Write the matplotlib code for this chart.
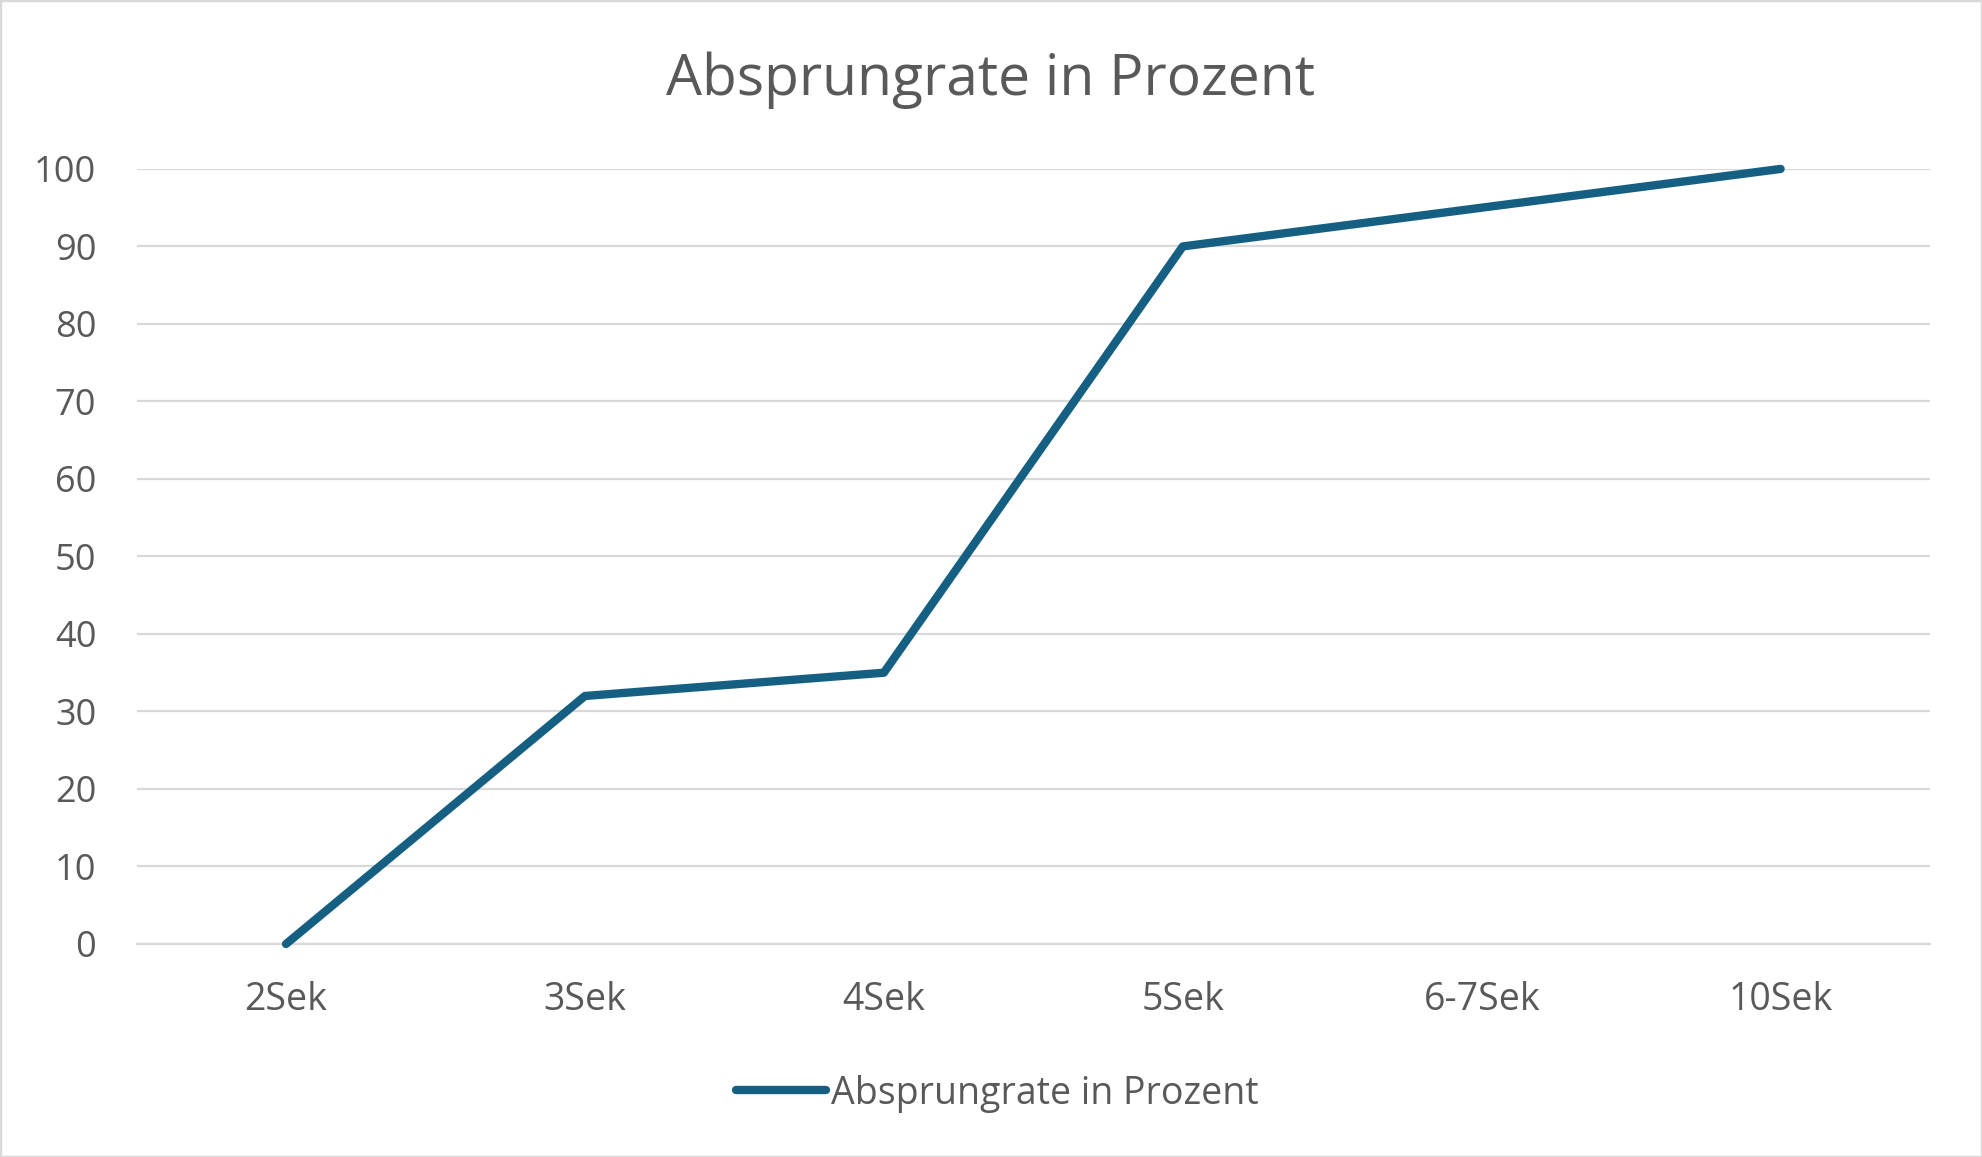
import matplotlib
matplotlib.use("Agg")
import matplotlib.pyplot as plt
from matplotlib.patches import Rectangle

categories = ["2Sek", "3Sek", "4Sek", "5Sek", "6-7Sek", "10Sek"]
values = [0, 32, 35, 90, 95, 100]
yticks = [0, 10, 20, 30, 40, 50, 60, 70, 80, 90, 100]
series_name = "Absprungrate in Prozent"
title = "Absprungrate in Prozent"

plt.rcParams['font.family'] = ['Open Sans', 'DejaVu Sans']
text_color = "#595959"
line_color = "#156082"
grid_color = "#D9D9D9"

fig = plt.figure(figsize=(19.82, 11.57), dpi=100)
ax = fig.add_axes([0.0689, 0.1841, 0.9049, 0.6699])

x = list(range(len(categories)))
ax.plot(x, values, color=line_color, linewidth=6, solid_joinstyle='round',
        solid_capstyle='round', label=series_name, clip_on=False, zorder=3)

ax.set_xlim(-0.5, len(categories) - 0.5)
ax.set_ylim(0, 100)
ax.set_yticks(yticks)
ax.set_xticks(x)
ax.set_xticklabels(categories)
ax.yaxis.grid(True, color=grid_color, linewidth=1.6)
ax.set_axisbelow(True)
for s in ax.spines.values():
    s.set_visible(False)
ax.spines['bottom'].set_visible(True)
ax.spines['bottom'].set_color(grid_color)
ax.spines['bottom'].set_linewidth(1.6)
ax.tick_params(axis='y', length=0, labelsize=26, labelcolor=text_color, pad=29)
ax.tick_params(axis='x', length=0, labelsize=27, labelcolor=text_color, pad=27)

fig.text(0.4995, 0.9307, title, ha='center', va='center', fontsize=41, color=text_color)

leg = ax.legend(loc='center', bbox_to_anchor=(0.48, -0.193), frameon=False,
                fontsize=27, handlelength=2.4, handletextpad=0.12, labelcolor=text_color)

fig.patches.append(Rectangle((0, 0), 1, 1, transform=fig.transFigure, fill=False,
                             edgecolor=grid_color, linewidth=2.5))

fig.savefig("out.png", dpi=100, facecolor="white")
